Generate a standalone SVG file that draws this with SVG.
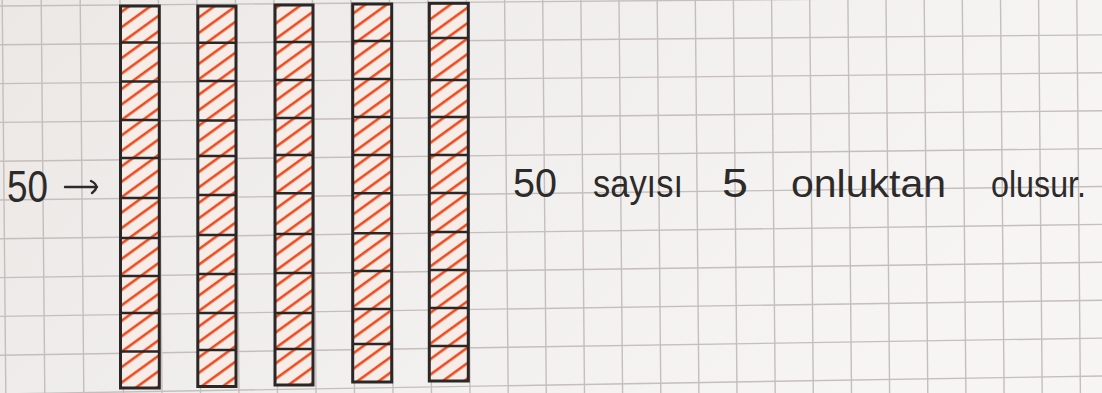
<svg xmlns="http://www.w3.org/2000/svg" width="1102" height="393" viewBox="0 0 1102 393">
<defs>
<linearGradient id="paper" x1="0" y1="0" x2="1" y2="0.3">
<stop offset="0" stop-color="#ebe8e6"/>
<stop offset="0.5" stop-color="#f1efed"/>
<stop offset="1" stop-color="#f6f5f3"/>
</linearGradient>
<pattern id="hatch" patternUnits="userSpaceOnUse" width="12" height="12.5" patternTransform="rotate(-36)">
<rect width="12" height="12.5" fill="#f6ede8"/>
<line x1="0" y1="6" x2="12" y2="6" stroke="#ef4a1d" stroke-width="2.6"/>
</pattern>
<style>
.grid line{stroke:#c4bebc;stroke-width:1.4}
.rod rect.fill{fill:url(#hatch);stroke:none}
.rod rect.box{fill:none;stroke:#2b2727;stroke-width:3}
.rod path{fill:none;stroke:#2b2727;stroke-width:2.6}
.hand{font-family:"Liberation Sans","DejaVu Sans",sans-serif;fill:#2d2a2a}
.conn{fill:none;stroke:#2d2a2a;stroke-width:2.4;stroke-linecap:round;stroke-linejoin:round}
</style>
</defs>
<rect width="1102" height="393" fill="url(#paper)"/>
<g id="grid" class="grid">
<line x1="2.2" y1="0" x2="5.8" y2="393"/>
<line x1="41.2" y1="0" x2="44.8" y2="393"/>
<line x1="80.2" y1="0" x2="83.8" y2="393"/>
<line x1="119.9" y1="0" x2="123.5" y2="393"/>
<line x1="158.4" y1="0" x2="162" y2="393"/>
<line x1="196.9" y1="0" x2="200.5" y2="393"/>
<line x1="235.4" y1="0" x2="239" y2="393"/>
<line x1="273.9" y1="0" x2="277.5" y2="393"/>
<line x1="312.4" y1="0" x2="316" y2="393"/>
<line x1="350.9" y1="0" x2="354.5" y2="393"/>
<line x1="389.4" y1="0" x2="393" y2="393"/>
<line x1="427.9" y1="0" x2="431.5" y2="393"/>
<line x1="466.4" y1="0" x2="470" y2="393"/>
<line x1="504.6" y1="0" x2="508.2" y2="393"/>
<line x1="542.7" y1="0" x2="546.3" y2="393"/>
<line x1="580.9" y1="0" x2="584.5" y2="393"/>
<line x1="619" y1="0" x2="622.6" y2="393"/>
<line x1="657.2" y1="0" x2="660.8" y2="393"/>
<line x1="695.3" y1="0" x2="698.9" y2="393"/>
<line x1="733.4" y1="0" x2="737" y2="393"/>
<line x1="771.6" y1="0" x2="775.2" y2="393"/>
<line x1="809.7" y1="0" x2="813.3" y2="393"/>
<line x1="847.9" y1="0" x2="851.5" y2="393"/>
<line x1="886" y1="0" x2="889.6" y2="393"/>
<line x1="924.2" y1="0" x2="927.8" y2="393"/>
<line x1="962.3" y1="0" x2="965.9" y2="393"/>
<line x1="1000.5" y1="0" x2="1004.1" y2="393"/>
<line x1="1038.6" y1="0" x2="1042.2" y2="393"/>
<line x1="1076.8" y1="0" x2="1080.4" y2="393"/>
<line x1="0" y1="6" x2="1102" y2="-3"/>
<line x1="0" y1="44.8" x2="1102" y2="34.9"/>
<line x1="0" y1="83.6" x2="1102" y2="72.8"/>
<line x1="0" y1="122.4" x2="1102" y2="110.7"/>
<line x1="0" y1="161.2" x2="1102" y2="148.6"/>
<line x1="0" y1="200" x2="1102" y2="186.5"/>
<line x1="0" y1="238.8" x2="1102" y2="224.4"/>
<line x1="0" y1="277.6" x2="1102" y2="262.3"/>
<line x1="0" y1="316.4" x2="1102" y2="300.2"/>
<line x1="0" y1="355.2" x2="1102" y2="338.1"/>
<line x1="0" y1="394" x2="1102" y2="376"/>
</g>
<g id="rod-1" class="rod">
<rect class="fill" x="120.5" y="6" width="38.8" height="382"/>
<path d="M120.5 42.5H159.3M120.5 81.5H159.3M120.5 120H159.3M120.5 158H159.3M120.5 198H159.3M120.5 238H159.3M120.5 276H159.3M120.5 313H159.3M120.5 351.5H159.3"/>
<rect class="box" x="120.5" y="6" width="38.8" height="382"/>
</g>
<g id="rod-2" class="rod">
<rect class="fill" x="197.8" y="6" width="38.2" height="380.5"/>
<path d="M197.8 42.7H236M197.8 81H236M197.8 120.5H236M197.8 156H236M197.8 195H236M197.8 235H236M197.8 274H236M197.8 313H236M197.8 350H236"/>
<rect class="box" x="197.8" y="6" width="38.2" height="380.5"/>
</g>
<g id="rod-3" class="rod">
<rect class="fill" x="275" y="5" width="38" height="380"/>
<path d="M275 42H313M275 80H313M275 118H313M275 155H313M275 193.3H313M275 234H313M275 273H313M275 313H313M275 349H313"/>
<rect class="box" x="275" y="5" width="38" height="380"/>
</g>
<g id="rod-4" class="rod">
<rect class="fill" x="352.7" y="4" width="39" height="378"/>
<path d="M352.7 41H391.7M352.7 79H391.7M352.7 117H391.7M352.7 155H391.7M352.7 193.3H391.7M352.7 233.3H391.7M352.7 271H391.7M352.7 309H391.7M352.7 344H391.7"/>
<rect class="box" x="352.7" y="4" width="39" height="378"/>
</g>
<g id="rod-5" class="rod">
<rect class="fill" x="429.3" y="3.3" width="39" height="377.7"/>
<path d="M429.3 38H468.3M429.3 80H468.3M429.3 117H468.3M429.3 155H468.3M429.3 193H468.3M429.3 232H468.3M429.3 270H468.3M429.3 308H468.3M429.3 346H468.3"/>
<rect class="box" x="429.3" y="3.3" width="39" height="377.7"/>
</g>
<g id="label-50">
<text class="hand" x="7" y="202" font-size="44" textLength="41" lengthAdjust="spacingAndGlyphs">50</text>
</g>
<g id="connectors">
<path class="conn" d="M65 187H97"/>
<path class="conn" d="M91 181Q101 186 92 193"/>
</g>
<g id="caption">
<text class="hand" x="513" y="197" font-size="40" textLength="44" lengthAdjust="spacingAndGlyphs">50</text>
<text class="hand" x="593" y="197" font-size="38" textLength="90" lengthAdjust="spacingAndGlyphs">sayısı</text>
<text class="hand" x="722" y="197" font-size="40" textLength="26" lengthAdjust="spacingAndGlyphs">5</text>
<text class="hand" x="791" y="197" font-size="38" textLength="155" lengthAdjust="spacingAndGlyphs">onluktan</text>
<text class="hand" x="991" y="197" font-size="37" textLength="95" lengthAdjust="spacingAndGlyphs">olusur.</text>
</g>
</svg>
